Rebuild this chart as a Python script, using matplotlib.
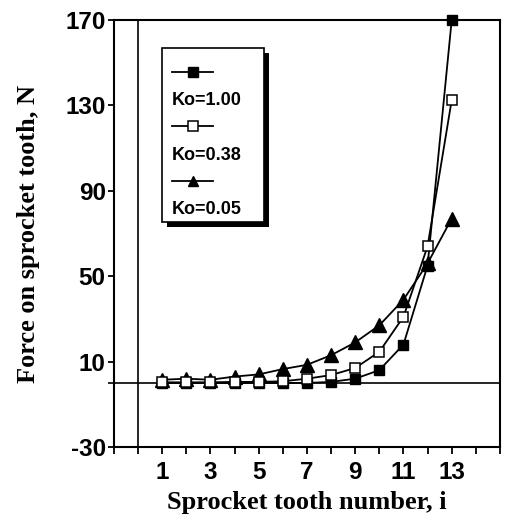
import matplotlib
matplotlib.use("Agg")
import matplotlib.pyplot as plt
from matplotlib.lines import Line2D
from matplotlib.patches import Rectangle
from matplotlib.transforms import IdentityTransform

plt.rcParams["axes.unicode_minus"] = False

teeth = list(range(1, 14))
ko_100 = [0, 0, 0, 0, 0, 0, 0, 0.5, 2, 6, 18, 55, 170]
ko_038 = [0.3, 0.3, 0.3, 0.5, 0.5, 0.8, 2, 3.7, 7, 14.6, 31, 64, 132.5]
ko_005 = [1.5, 2, 1.5, 3, 4, 6.5, 8.5, 13, 19, 27, 39, 56, 77]
labels = ["Ko=1.00", "Ko=0.38", "Ko=0.05"]

fig = plt.figure(figsize=(5.05, 5.21), dpi=100)
ax = fig.add_axes([0.2257, 0.142, 0.7643, 0.8196])

ax.axhline(0, color="black", lw=1.2, zorder=1)
ax.axvline(0, color="black", lw=1.2, zorder=1)

l1, = ax.plot(teeth, ko_100, color="black", lw=1.3, marker="s", ms=7.5,
              mfc="black", mec="black", clip_on=False, zorder=3)
l2, = ax.plot(teeth, ko_038, color="black", lw=1.3, marker="s", ms=7.5,
              mfc="white", mec="black", mew=1.1, clip_on=False, zorder=3)
l3, = ax.plot(teeth, ko_005, color="black", lw=1.3, marker="^", ms=10,
              mfc="black", mec="black", clip_on=False, zorder=2)

ax.set_xlim(-1, 15)
ax.set_ylim(-30, 170)
ax.set_xticks(range(-1, 16))
ax.set_xticklabels([str(t) if t in (1, 3, 5, 7, 9, 11, 13) else "" for t in range(-1, 16)])
ax.set_yticks([-30, 10, 50, 90, 130, 170])
ax.set_yticks([0], minor=True)
ax.tick_params(axis="y", which="minor", length=4, width=1.2)
ax.tick_params(direction="out", width=1.3, colors="black")
ax.tick_params(axis="x", length=5, pad=5)
ax.tick_params(axis="y", length=4, pad=2)
for lab in ax.get_xticklabels() + ax.get_yticklabels():
    lab.set_fontfamily("Liberation Sans")
    lab.set_fontweight("bold")
    lab.set_fontsize(17.5)
for sp in ax.spines.values():
    sp.set_linewidth(1.5)

ax.set_xlabel("Sprocket tooth number, i", fontfamily="Liberation Serif",
              fontweight="bold", fontsize=19, labelpad=5)
ax.set_ylabel("Force on sprocket tooth, N", fontfamily="Liberation Serif",
              fontweight="bold", fontsize=19, labelpad=18)

blank = Line2D([], [], color="none")
handles = [l1, blank, l2, blank, l3, blank]
texts = ["", labels[0], "", labels[1], "", labels[2]]
leg = ax.legend(handles, texts, loc="upper left",
                bbox_to_anchor=(0.1244, 0.5, 0.264, 0.418), mode="expand",
                frameon=False,
                handlelength=2.3, handletextpad=-2.3,
                labelspacing=0.57, borderpad=0.55, borderaxespad=0,
                prop={"family": "Liberation Sans", "size": 13, "weight": "bold"})
leg.set_zorder(5)
for h in leg.legend_handles[:5:2]:
    h.set_markersize(7)

# legend box with a drop shadow, a bit taller at the top than the entries
fig.canvas.draw()
bb = leg.get_window_extent()
x0, y0 = bb.x0, bb.y0 + 6
w, h = bb.width, bb.y1 + 7 - y0
shadow = Rectangle((x0 + 5, y0 - 5), w, h, transform=IdentityTransform(),
                   facecolor="black", edgecolor="none", zorder=4.4, clip_on=False)
frame = Rectangle((x0, y0), w, h, transform=IdentityTransform(),
                  facecolor="white", edgecolor="black", lw=1.2, zorder=4.6,
                  clip_on=False)
ax.add_artist(shadow)
ax.add_artist(frame)

fig.savefig("out.png", dpi=100)
